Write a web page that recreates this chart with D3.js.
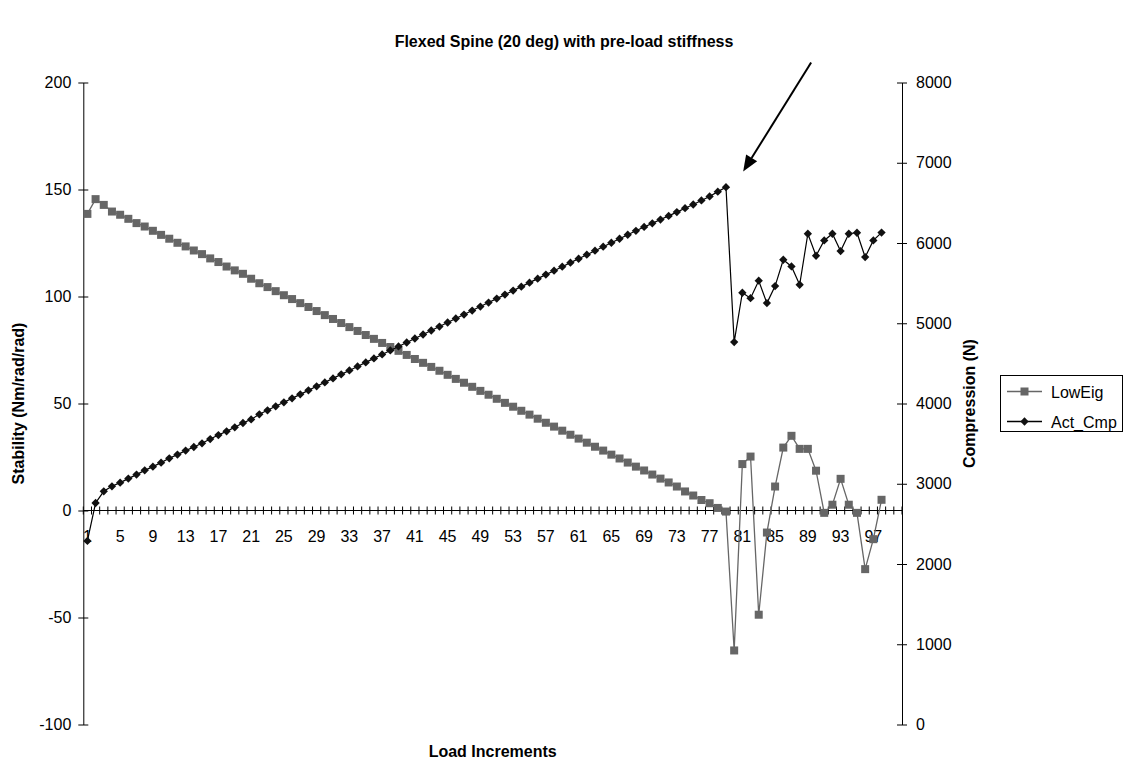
<!DOCTYPE html>
<html>
<head>
<meta charset="utf-8">
<script src="https://d3js.org/d3.v7.min.js"></script>
<style>
  body { margin: 0; background: #fff; }
  text { font-family: "Liberation Sans", Arial, sans-serif; fill: #000; }
</style>
</head>
<body>
<svg id="chart" width="1128" height="765"></svg>
<script>
// categories 1..100 on the x axis, data only up to 98
var categories = d3.range(1, 101);
var tickLabels = [1, 5, 9, 13, 17, 21, 25, 29, 33, 37, 41, 45, 49, 53, 57, 61, 65, 69, 73, 77, 81, 85, 89, 93, 97];

var lowEig = [138.6, 145.5, 142.8, 139.7, 138.2, 136.3, 134.3, 132.7, 130.7, 128.8,
  127.0, 125.1, 123.4, 121.5, 119.8, 117.8, 116.1, 114.0, 112.2, 110.6,
  108.3, 106.2, 104.4, 102.5, 100.6, 98.8, 96.9, 95.1, 93.2, 91.3,
  89.5, 87.6, 85.7, 83.9, 82.0, 80.2, 78.3, 76.4, 74.6, 72.7,
  70.8, 69.0, 67.1, 65.3, 63.4, 61.5, 59.7, 57.8, 55.9, 54.1,
  52.2, 50.3, 48.5, 46.6, 44.8, 42.9, 41.0, 39.2, 37.3, 35.4,
  33.6, 31.7, 29.8, 28.0, 26.1, 24.3, 22.4, 20.5, 18.7, 16.8,
  14.9, 13.1, 11.2, 8.9, 7.0, 4.9, 3.4, 1.2, -0.5, -65.4,
  21.7, 25.2, -48.7, -10.3, 11.2, 29.4, 34.9, 28.8, 28.8, 18.6,
  -1.1, 2.7, 14.8, 2.7, -1.1, -27.4, -13.4, 5.0];

var actCmp = [2287, 2760, 2906, 2968, 3014, 3064, 3114, 3167, 3213, 3263,
  3317, 3363, 3413, 3458, 3504, 3557, 3607, 3653, 3703, 3757,
  3802, 3865, 3915, 3965, 4015, 4064, 4114, 4164, 4214, 4263,
  4313, 4363, 4412, 4462, 4512, 4562, 4611, 4661, 4711, 4760,
  4810, 4860, 4910, 4959, 5009, 5059, 5108, 5158, 5208, 5258,
  5307, 5357, 5407, 5456, 5506, 5556, 5606, 5655, 5705, 5755,
  5804, 5854, 5904, 5954, 6003, 6053, 6103, 6152, 6200, 6245,
  6292, 6338, 6385, 6434, 6480, 6530, 6580, 6640, 6696, 4765,
  5380, 5313, 5530, 5251, 5463, 5791, 5708, 5480, 6115, 5841,
  6032, 6115, 5899, 6115, 6128, 5824, 6032, 6130];

var leftTicks = [-100, -50, 0, 50, 100, 150, 200];
var rightTicks = [0, 1000, 2000, 3000, 4000, 5000, 6000, 7000, 8000];

// arrow annotation in data units: [category, compression]
var arrowTail = [89.4, 8250];
var arrowTip = [81.1, 6891];

var svg = d3.select("#chart");
var plotL = 83.3, plotR = 902, plotT = 82.5, plotB = 724.5;

var x = d3.scaleBand().domain(categories).range([plotL, plotR]).padding(0);
var step = x.bandwidth();
var xc = function (c) { return plotL + (c - 0.5) * step; };
var yL = d3.scaleLinear().domain([-100, 200]).range([plotB, plotT]);
var yR = d3.scaleLinear().domain([0, 8000]).range([plotB, plotT]);

var gray = "#666666";
var plain = function (d) { return String(d); };

// title
svg.append("text").attr("x", 564).attr("y", 47)
  .attr("text-anchor", "middle").style("font-weight", "bold").style("font-size", "16px")
  .text("Flexed Spine (20 deg) with pre-load stiffness");

// left axis
var gl = svg.append("g").attr("transform", "translate(" + plotL + ",0)");
gl.call(d3.axisLeft(yL).tickValues(leftTicks).tickSize(0).tickPadding(12).tickFormat(plain));
gl.select(".domain").attr("stroke", "#000");
gl.selectAll(".tick line").remove();
gl.selectAll(".tick").append("line").attr("x1", -5).attr("x2", 5).attr("stroke", "#000");
gl.selectAll("text").style("font-size", "16px").style("font-family", "Liberation Sans, Arial, sans-serif");

// right axis
var gr = svg.append("g").attr("transform", "translate(" + plotR + ",0)");
gr.call(d3.axisRight(yR).tickValues(rightTicks).tickSize(0).tickPadding(14).tickFormat(plain));
gr.select(".domain").attr("stroke", "#000");
gr.selectAll(".tick line").remove();
gr.selectAll(".tick").append("line").attr("x1", -5).attr("x2", 5).attr("stroke", "#000");
gr.selectAll("text").style("font-size", "16px").style("font-family", "Liberation Sans, Arial, sans-serif");

// category axis at zero
var y0 = yL(0);
var gx = svg.append("g");
gx.append("line").attr("x1", plotL).attr("x2", plotR).attr("y1", y0).attr("y2", y0).attr("stroke", "#000");
var bounds = categories.map(function (c) { return x(c); }).concat([plotR]);
gx.selectAll(".ct").data(bounds).enter().append("line")
  .attr("x1", function (d) { return d; }).attr("x2", function (d) { return d; })
  .attr("y1", y0 - 4).attr("y2", y0 + 4).attr("stroke", "#000");
gx.selectAll(".cl").data(tickLabels).enter().append("text")
  .attr("x", function (d) { return x(d) + step / 2; })
  .attr("y", y0 + 31)
  .attr("text-anchor", "middle").style("font-size", "16px")
  .text(function (d) { return d; });

// axis titles
svg.append("text").attr("transform", "translate(24," + (plotT + plotB) / 2 + ") rotate(-90)")
  .attr("text-anchor", "middle").style("font-weight", "bold").style("font-size", "16px")
  .text("Stability (Nm/rad/rad)");
svg.append("text").attr("transform", "translate(975," + (plotT + plotB) / 2 + ") rotate(-90)")
  .attr("text-anchor", "middle").style("font-weight", "bold").style("font-size", "16px")
  .text("Compression (N)");
svg.append("text").attr("x", (plotL + plotR) / 2).attr("y", 757)
  .attr("text-anchor", "middle").style("font-weight", "bold").style("font-size", "16px")
  .text("Load Increments");

// LowEig series
var lowPts = lowEig.map(function (v, i) { return [x(categories[i]) + step / 2, yL(v)]; });
svg.append("path").attr("d", d3.line()(lowPts)).attr("fill", "none")
  .attr("stroke", gray).attr("stroke-width", 1.3);
svg.selectAll(".sq").data(lowPts).enter().append("rect")
  .attr("x", function (d) { return d[0] - 4; }).attr("y", function (d) { return d[1] - 4; })
  .attr("width", 8).attr("height", 8).attr("fill", gray);

// Act_Cmp series
var cmpPts = actCmp.map(function (v, i) { return [x(categories[i]) + step / 2, yR(v)]; });
svg.append("path").attr("d", d3.line()(cmpPts)).attr("fill", "none")
  .attr("stroke", "#000").attr("stroke-width", 1.2);
var diamond = d3.symbol().type(d3.symbolDiamond2).size(44);
svg.selectAll(".dm").data(cmpPts).enter().append("path")
  .attr("d", diamond)
  .attr("transform", function (d) { return "translate(" + d[0] + "," + d[1] + ")"; })
  .attr("fill", "#111");

// arrow
var tx = xc(arrowTip[0]), ty = yR(arrowTip[1]);
var sx = xc(arrowTail[0]), sy = yR(arrowTail[1]);
var ang = Math.atan2(ty - sy, tx - sx);
var hl = 16, hw = 6.5;
var bx = tx - hl * Math.cos(ang), by = ty - hl * Math.sin(ang);
svg.append("line").attr("x1", sx).attr("y1", sy).attr("x2", bx).attr("y2", by)
  .attr("stroke", "#000").attr("stroke-width", 2);
svg.append("path").attr("d", "M" + tx + "," + ty +
  "L" + (bx + hw * Math.sin(ang)) + "," + (by - hw * Math.cos(ang)) +
  "L" + (bx - hw * Math.sin(ang)) + "," + (by + hw * Math.cos(ang)) + "Z")
  .attr("fill", "#000");

// legend
var lg = svg.append("g");
lg.append("rect").attr("x", 1000.5).attr("y", 375.5).attr("width", 122).attr("height", 56)
  .attr("fill", "#fff").attr("stroke", "#000");
var legendItems = [{ name: "LowEig", color: gray, y: 391.5 }, { name: "Act_Cmp", color: "#000", y: 421.5 }];
legendItems.forEach(function (it, i) {
  lg.append("line").attr("x1", 1007).attr("x2", 1042).attr("y1", it.y).attr("y2", it.y)
    .attr("stroke", it.color).attr("stroke-width", 1.3);
  if (i === 0) {
    lg.append("rect").attr("x", 1020.5).attr("y", it.y - 4).attr("width", 8).attr("height", 8).attr("fill", gray);
  } else {
    lg.append("path").attr("d", diamond).attr("transform", "translate(1024.5," + it.y + ")").attr("fill", "#111");
  }
  lg.append("text").attr("x", 1051).attr("y", it.y + 6).style("font-size", "16px").text(it.name);
});
</script>
</body>
</html>
